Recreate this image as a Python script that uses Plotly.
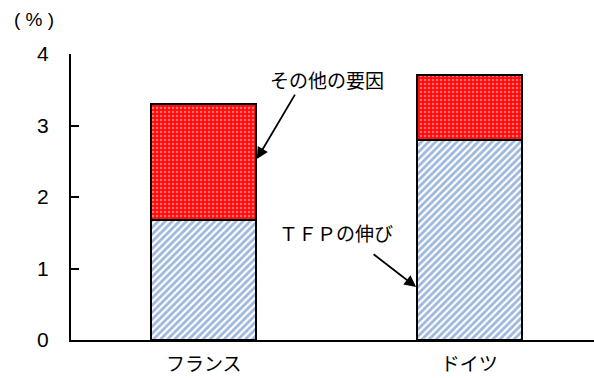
import plotly.graph_objects as go

categories = ["フランス", "ドイツ"]
tfp = [1.68, 2.80]
other = [1.62, 0.91]
y_ticks = [0, 1, 2, 3, 4]

JP = "Noto Sans CJK JP, Liberation Sans, Arial"
NUM = "Liberation Sans, Arial"

fig = go.Figure()
fig.add_trace(go.Bar(
    x=categories, y=tfp, name="ＴＦＰの伸び", width=0.395,
    marker=dict(color="white", line=dict(color="black", width=1.8),
                pattern=dict(shape="/", fgcolor="#3d6fb8", bgcolor="white", size=5, solidity=0.55)),
))
fig.add_trace(go.Bar(
    x=categories, y=other, name="その他の要因", width=0.395,
    marker=dict(color="#ff0000", line=dict(color="black", width=1.8),
                pattern=dict(shape=".", fgcolor="#ffd8d8", bgcolor="#ff0a0a", size=4, solidity=0.3)),
))

fig.update_layout(
    barmode="stack",
    width=594, height=378,
    margin=dict(l=71, r=0, t=54, b=38),
    paper_bgcolor="white", plot_bgcolor="white",
    showlegend=False,
    font=dict(family=JP, size=19, color="black"),
    xaxis=dict(showline=True, linecolor="black", linewidth=2, ticks="",
               tickfont=dict(family=JP, size=19), range=[-0.5, 1.47], ticklabelstandoff=6),
    yaxis=dict(range=[0, 4], tickvals=y_ticks, showline=True, linecolor="black", linewidth=2,
               ticks="inside", ticklen=8, tickwidth=1.5, tickcolor="black", showgrid=False,
               zeroline=False, tickfont=dict(family=NUM, size=21), ticklabelstandoff=16),
    annotations=[
        dict(text="( % )", xref="paper", yref="paper", x=-0.112, y=1.12, xanchor="left",
             yanchor="middle", showarrow=False, font=dict(family=NUM, size=19)),
        dict(text="その他の要因", x=0.464, y=3.64, xref="x", yref="y", showarrow=False,
             font=dict(family=JP, size=19)),
        dict(text="ＴＦＰの伸び", x=0.5, y=1.51, xref="x", yref="y", showarrow=False,
             font=dict(family=JP, size=19)),
        dict(text="", x=0.2, y=2.53, xref="x", yref="y", ax=39, ay=-66, showarrow=True,
             arrowhead=2, arrowsize=1.3, arrowwidth=1.8, arrowcolor="black", standoff=0),
        dict(text="", x=0.8, y=0.74, xref="x", yref="y", ax=-44, ay=-34, showarrow=True,
             arrowhead=2, arrowsize=1.3, arrowwidth=1.8, arrowcolor="black", standoff=0),
    ],
)

fig.write_html("out.html")
